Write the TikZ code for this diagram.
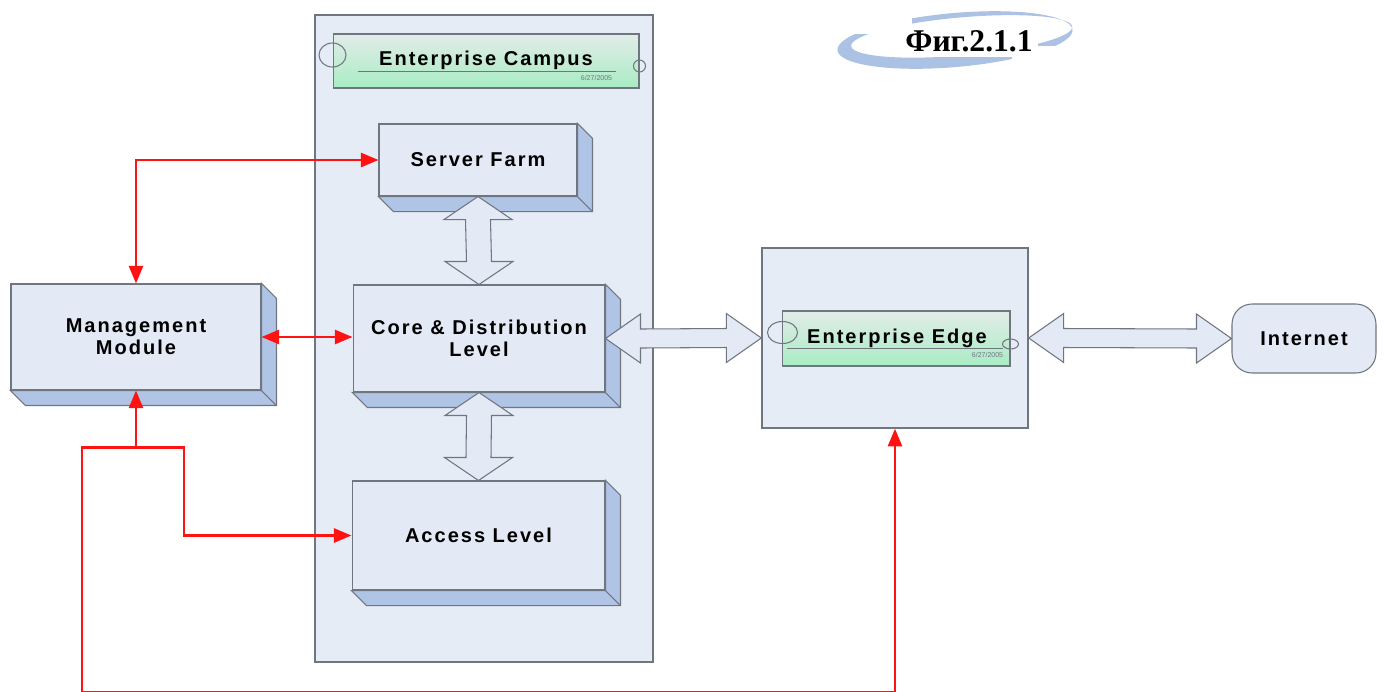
\documentclass[tikz,border=0pt]{standalone}
\usepackage{fontspec}
\setmainfont{Liberation Sans}
\newfontfamily\blockfont{Liberation Sans}[LetterSpace=10]
\newfontfamily\figfont{Liberation Serif}
\usepackage{tikz}
\usetikzlibrary{arrows.meta,calc,positioning,shapes}

\definecolor{panel}{RGB}{230,236,246}
\definecolor{face}{RGB}{228,234,245}
\definecolor{side}{RGB}{176,196,230}
\definecolor{frame}{RGB}{112,118,128}
\definecolor{mintlo}{RGB}{168,236,196}
\definecolor{minthi}{RGB}{226,236,232}
\definecolor{swoosh}{RGB}{172,194,228}
\definecolor{link}{RGB}{255,18,18}

\tikzset{%
	container/.style = {draw=frame, fill=panel, line width=0.8pt, inner sep=0pt},
	block/.style     = {draw=frame, fill=face, line width=0.6pt, inner sep=0pt, align=center, font=\blockfont\bfseries\fontsize{11.4pt}{12.6pt}\selectfont},
	titlebox/.style  = {draw=frame, top color=minthi, bottom color=mintlo, line width=0.6pt, inner sep=0pt, font=\blockfont\bfseries\fontsize{11.4pt}{12.6pt}\selectfont},
	datetext/.style  = {text=frame, inner sep=0pt, font=\fontsize{4pt}{4pt}\selectfont},
	netbox/.style    = {block, rounded corners=0.4cm},
	fatarrow/.style  = {draw=frame, fill=face, line width=0.6pt},
	vfat/.style      = {to path={(\tikztostart) -- ++(34,23) -- ++(-21.5,0) -- ($(\tikztotarget)+(12.5,-23)$) -- ++(21.5,0) -- (\tikztotarget) -- ++(-34,-23) -- ++(21.5,0) -- ($(\tikztostart)+(-12.5,23)$) -- ++(-21.5,0) -- cycle}},
	hfat/.style      = {to path={(\tikztostart) -- ++(35,-24.5) -- ++(0,15) -- ($(\tikztotarget)+(-35,-9.5)$) -- ++(0,-15) -- (\tikztotarget) -- ++(-35,24.5) -- ++(0,-15) -- ($(\tikztostart)+(35,9.5)$) -- ++(0,15) -- cycle}},
	redline/.style   = {draw=link, line width=1.4pt, >={Triangle[length=10pt,width=8pt]}},
}

\begin{document}
\begin{tikzpicture}[x=0.02cm,y=-0.02cm]
	\useasboundingbox (0,0) rectangle (1384,691);

	% figure caption with swoosh
	\begin{scope}[rotate around={5:(955,40)}]
		\fill[swoosh, even odd rule] (955,40) ellipse [x radius=118, y radius=27] (962,37) ellipse [x radius=111, y radius=19];
	\end{scope}
	\fill[white] (826,0) rectangle (912,34);
	\fill[white] (1012,46) rectangle (1084,80);
	\node[fill=white, inner sep=3pt, font=\figfont\bfseries\fontsize{18pt}{20pt}\selectfont] (fig) at (969,41) {Фиг.2.1.1};

	% containers
	\node[container, minimum width=6.76cm, minimum height=12.94cm] (campus) at (484,338.5) {};
	\node[container, minimum width=5.32cm, minimum height=3.6cm] (edge) at (895,338) {};

	% module titles
	\node[titlebox, minimum width=6.12cm, minimum height=1.08cm] (campustitle) at (486,61) {};
	\node at (486,60) [font=\blockfont\bfseries\fontsize{11.4pt}{12.6pt}\selectfont] {Enterprise Campus};
	\draw[frame] ($(campustitle.south west)+(25,-17)$) -- ($(campustitle.south east)+(-24,-17)$);
	\node[datetext, anchor=south east] at ($(campustitle.south east)+(-27,-8)$) {6/27/2005};
	\draw[frame, line width=0.6pt] ($(campustitle.west)+(0,-6)$) ellipse [x radius=13.5, y radius=12];
	\draw[frame, line width=0.6pt] ($(campustitle.east)+(0,5)$) ellipse [x radius=6, y radius=6];

	\node[titlebox, minimum width=4.56cm, minimum height=1.1cm] (edgetitle) at (896,338.5) {};
	\node at (897,338) [font=\blockfont\bfseries\fontsize{11.4pt}{12.6pt}\selectfont] {Enterprise Edge};
	\draw[frame] ($(edgetitle.south west)+(5,-18)$) -- ($(edgetitle.south east)+(-8,-18)$);
	\node[datetext, anchor=south east] at ($(edgetitle.south east)+(-7,-9)$) {6/27/2005};
	\draw[frame, line width=0.6pt] ($(edgetitle.west)+(1,-6)$) ellipse [x radius=15, y radius=11];
	\draw[frame, line width=0.6pt] ($(edgetitle.east)+(0,5.5)$) ellipse [x radius=8, y radius=5];

	% blocks
	\node[block, minimum width=3.96cm, minimum height=1.44cm] (farm) at (478,160) {Server Farm};
	\node[block, minimum width=5.04cm, minimum height=2.14cm] (core) at (479,338.5) {Core \& Distribution\\Level};
	\node[block, minimum width=5.06cm, minimum height=2.18cm] (access) at (478.5,535.5) {Access Level};
	\node[block, minimum width=5.0cm, minimum height=2.12cm] (mgmt) at (136,337) {Management\\Module};
	\node[netbox, minimum width=2.88cm, minimum height=1.38cm] (internet) at (1304,338.5) {Internet};

	% depth faces
	\foreach \n in {farm,core,access,mgmt}{
		\filldraw[fill=side, draw=frame, line width=0.6pt] (\n.north east) -- ++(15,15) -- ($(\n.south east)+(15,15)$) -- ($(\n.south west)+(15,15)$) -- (\n.south west) -- (\n.south east) -- cycle;
		\draw[frame, line width=0.6pt] (\n.south east) -- ++(15,15);
	}

	% data links
	\draw[fatarrow] (farm.south) to[vfat] (core.north);
	\draw[fatarrow] (core.south) to[vfat] (access.north);
	\draw[fatarrow] (core.east) to[hfat] (edge.west);
	\draw[fatarrow] (edge.east) to[hfat] (internet.west);

	% management links
	\coordinate (tap) at ($(mgmt.south)+(0,57)$);
	\coordinate (bus) at (82,692.5);
	\draw[redline, <->] (mgmt.north) |- (farm.west);
	\draw[redline, <->] (mgmt.east) -- (mgmt.east -| core.west);
	\draw[redline, ->] (tap) -- (mgmt.south);
	\draw[redline, ->] (tap) -- ++(48,0) |- (access.west);
	\draw[redline, ->] (tap) -- ++(-54,0) -- (bus) -- (bus -| edge.south) -- (edge.south);
\end{tikzpicture}
\end{document}
